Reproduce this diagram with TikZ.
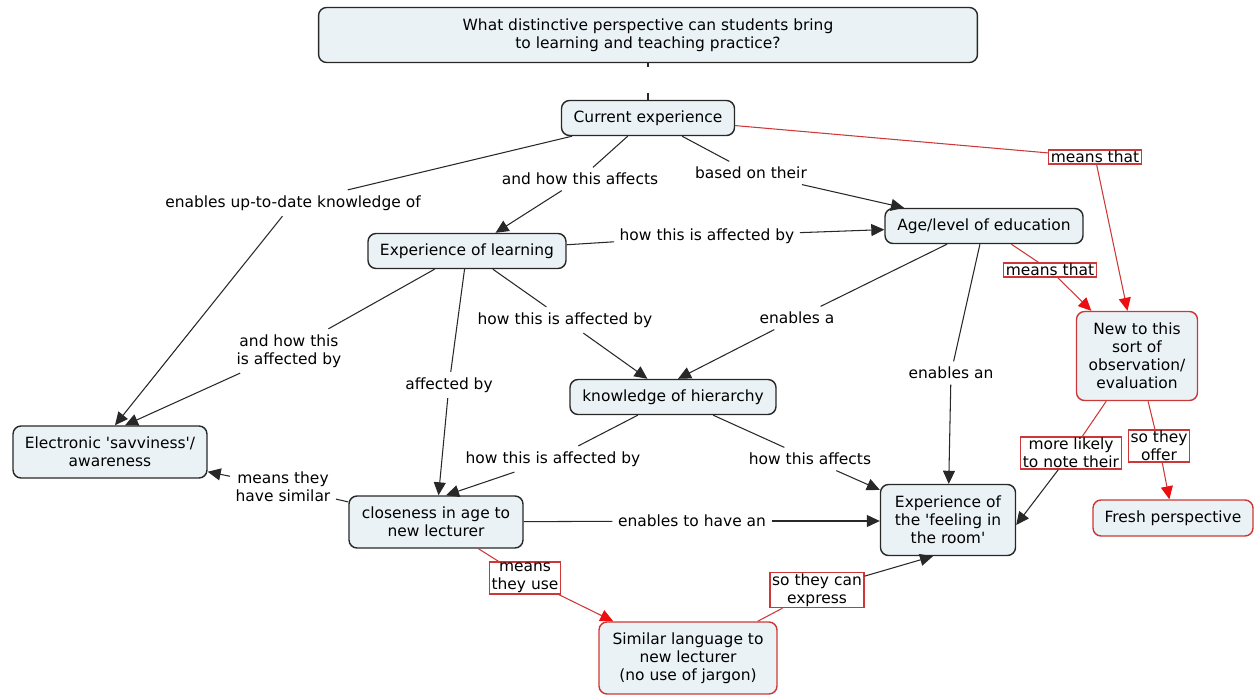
\documentclass[tikz,border=0pt]{standalone}
\usepackage{fontspec}
\setmainfont{DejaVu Sans}
\usetikzlibrary{arrows.meta}
\definecolor{cfill}{RGB}{234,242,246}
\definecolor{cline}{RGB}{40,40,40}
\definecolor{credge}{RGB}{205,55,55}
\definecolor{ctip}{RGB}{235,15,15}
\tikzset{
  txt/.style={font=\fontsize{8.8}{10.3}\selectfont, align=center},
  concept/.style={txt, draw=cline, line width=0.8pt, fill=cfill, rounded corners=0.16cm, inner sep=1pt},
  redconcept/.style={concept, draw=credge},
  link/.style={txt, inner sep=3pt},
  redlink/.style={txt, draw=credge, line width=0.7pt, fill=white, inner xsep=1.2pt, inner ysep=0.6pt},
  con/.style={draw=cline, line width=0.6pt},
  arr/.style={con, -{Triangle[length=0.26cm,width=0.24cm]}},
  redcon/.style={draw=credge, line width=0.6pt},
  redarr/.style={redcon, -{Triangle[length=0.26cm,width=0.24cm,color=ctip]}}
}
\begin{document}
\begin{tikzpicture}[x=0.02cm, y=-0.02cm]
      \useasboundingbox (0,0) rectangle (1255,696);
      \node[concept, minimum width=13.18cm, minimum height=1.1cm] (q) at (648,35) {What distinctive perspective can students bring\\to learning and teaching practice?};
      \node[concept, minimum width=3.46cm, minimum height=0.7cm] (cur) at (648,118) {Current experience};
      \node[concept, minimum width=3.96cm, minimum height=0.7cm] (learn) at (467,251) {Experience of learning};
      \node[concept, minimum width=3.96cm, minimum height=0.7cm] (age) at (984,226) {Age/level of education};
      \node[concept, minimum width=4.12cm, minimum height=0.7cm] (know) at (673,397) {knowledge of hierarchy};
      \node[concept, minimum width=3.88cm, minimum height=1.04cm] (elec) at (110,452) {Electronic \textquotesingle savviness\textquotesingle/\\awareness};
      \node[concept, minimum width=3.48cm, minimum height=1.04cm] (close) at (436,522) {closeness in age to\\new lecturer};
      \node[concept, minimum width=2.7cm, minimum height=1.42cm] (feel) at (948,520) {Experience of\\the \textquotesingle feeling in\\the room\textquotesingle};
      \node[redconcept, minimum width=2.42cm, minimum height=1.78cm] (new) at (1137,356) {New to this\\sort of\\observation/\\evaluation};
      \node[redconcept, minimum width=3.2cm, minimum height=0.72cm] (fresh) at (1173,518) {Fresh perspective};
      \node[redconcept, minimum width=3.56cm, minimum height=1.44cm] (sim) at (688,658) {Similar language to\\new lecturer\\(no use of jargon)};

      \node[inner sep=0, minimum height=0.5cm] (qlink) at (648,80) {};
      \node[link] (upto) at (293,203) {enables up-to-date knowledge of};
      \node[link] (howaff) at (580,179) {and how this affects};
      \node[link] (based) at (751,173) {based on their};
      \node[link] (learnage) at (707,236) {how this is affected by};
      \node[link] (learnelec) at (289,351) {and how this\\is affected by};
      \node[link] (learnclose) at (449,385) {affected by};
      \node[link] (learnknow) at (565,320) {how this is affected by};
      \node[link] (ageknow) at (797,318) {enables a};
      \node[link] (agefeel) at (951,373) {enables an};
      \node[link] (knowclose) at (553,459) {how this is affected by};
      \node[link] (knowfeel) at (810,459) {how this affects};
      \node[link] (closefeel) at (692,521) {enables to have an};
      \node[link] (closeelec) at (283,487) {means they\\have similar};
      \node[redlink] (curnew) at (1095,157) {means that};
      \node[redlink] (agenew) at (1050,270) {means that};
      \node[redlink] (closesim) at (525,578) {means\\they use};
      \node[redlink] (simfeel) at (817,590) {so they can\\express};
      \node[redlink] (newfeel) at (1071,453) {more likely\\to note their};
      \node[redlink] (newfresh) at (1159,446) {so they\\offer};

      \draw[con] (q) -- (qlink);
      \draw[con] (qlink) -- (cur);
      \draw[con] (cur) -- (upto);
      \draw[arr] (upto) -- ([xshift=0.1cm]elec.north);
      \draw[con] (cur) -- (howaff);
      \draw[arr] (howaff) -- (learn);
      \draw[con] (cur) -- (based);
      \draw[arr] (based) -- (age);
      \draw[con] (learn) -- (learnage);
      \draw[arr] (learnage) -- (age);
      \draw[con] (learn) -- (learnelec);
      \draw[arr] (learnelec) -- ([xshift=0.3cm]elec.north);
      \draw[con] (learn) -- (learnclose);
      \draw[arr] (learnclose) -- (close);
      \draw[con] (learn) -- (learnknow);
      \draw[arr] (learnknow) -- (know);
      \draw[con] (age) -- (ageknow);
      \draw[arr] (ageknow) -- ([xshift=0.1cm]know.north);
      \draw[con] (age) -- (agefeel);
      \draw[arr] (agefeel) -- (feel);
      \draw[con] (know) -- (knowclose);
      \draw[arr] (knowclose) -- ([xshift=0.2cm]close.north);
      \draw[con] (know) -- (knowfeel);
      \draw[arr] (knowfeel) -- (feel);
      \draw[con] (close) -- (closefeel);
      \draw[arr] (closefeel) -- (closefeel -| feel.west);
      \draw[con] (close) -- (closeelec);
      \draw[arr] (closeelec) -- (elec);
      \draw[redcon] (cur) -- (curnew);
      \draw[redarr] (curnew) -- (new);
      \draw[redcon] (age) -- (agenew);
      \draw[redarr] (agenew) -- (new);
      \draw[redcon] (close) -- (closesim);
      \draw[redarr] (closesim) -- (sim);
      \draw[redcon] (sim) -- (simfeel);
      \draw[arr] (simfeel) -- ([xshift=-0.3cm]feel.south);
      \draw[redcon] (new) -- (newfeel);
      \draw[arr] (newfeel) -- ([yshift=-0.1cm]feel.east);
      \draw[redcon] (new) -- (newfresh);
      \draw[redarr] (newfresh) -- (fresh);
      \end{tikzpicture}
\end{document}
